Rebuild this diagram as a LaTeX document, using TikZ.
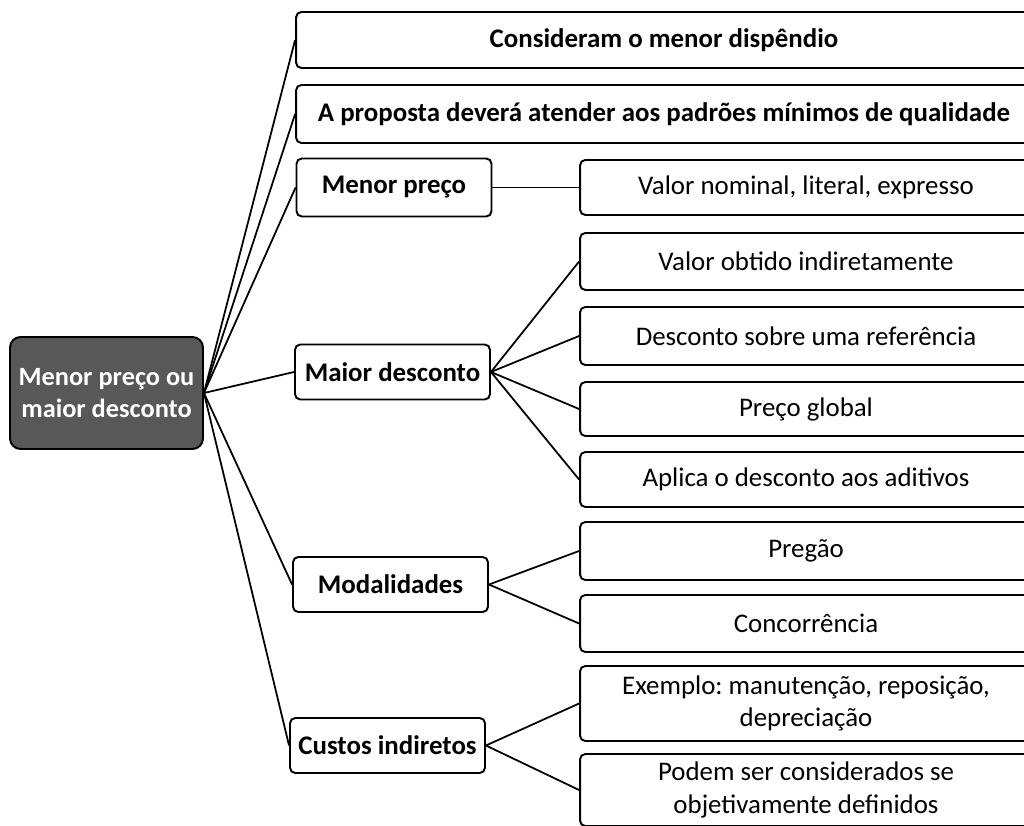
\documentclass[tikz,border=0pt]{standalone}
\usepackage{fontspec}
\setmainfont{Carlito}
\usetikzlibrary{positioning}
\definecolor{RootGray}{RGB}{88,88,88}
\frenchspacing

\begin{document}
\begin{tikzpicture}[
    x=0.02cm, y=0.02cm,
    box/.style={rectangle, rounded corners=3pt, draw=black, fill=white,
                line width=1.1pt, inner sep=0pt, align=center,
                font=\fontsize{15.3}{18.5}\selectfont, text=black},
    midbox/.style={box, minimum width=3.9cm, minimum height=1.1cm,
                   font=\fontsize{15.3}{18.5}\selectfont\bfseries},
    leafbox/.style={box, minimum width=9.04cm},
    topbox/.style={box, minimum width=14.72cm,
                   font=\fontsize{15.3}{18.5}\selectfont\bfseries},
    rootbox/.style={box, rounded corners=6pt, fill=RootGray, text=white,
                    minimum width=3.86cm, minimum height=2.24cm,
                    font=\fontsize{15}{18.5}\selectfont\bfseries},
    link/.style={line width=1pt},
]
\useasboundingbox (0,0) rectangle (1024,825);
\clip (0,0) rectangle (1024,825);

% ── Root ──
\node[rootbox] (root) at (106.5,432) {Menor preço ou\\maior desconto};

% ── First level ──
\node[topbox, minimum height=1.12cm] (consid) at (664,785) {Consideram o menor dispêndio};
\node[topbox, minimum height=1.16cm] (proposta) at (664,711) {A proposta deverá atender aos padrões mínimos de qualidade};
\node[midbox, minimum height=1.16cm] (menor) at (394,637.5) {Menor preço};
\node[midbox] (maior) at (392.5,453) {Maior desconto};
\node[midbox] (modal) at (390.5,240.5) {Modalidades};
\node[midbox] (custos) at (387.5,79.5) {Custos indiretos};

% ── Second level ──
\node[leafbox, minimum height=1.1cm] (nominal) at (806,637.5) {Valor nominal, literal, expresso};
\node[leafbox, minimum height=1.14cm] (indireta) at (806,563.5) {Valor obtido indiretamente};
\node[leafbox, minimum height=1.16cm] (referencia) at (806,489) {Desconto sobre uma referência};
\node[leafbox, minimum height=1.08cm] (global) at (806,416) {Preço global};
\node[leafbox, minimum height=1.1cm] (aditivos) at (806,345.5) {Aplica o desconto aos aditivos};
\node[leafbox, minimum height=1.16cm] (pregao) at (806,274) {Pregão};
\node[leafbox, minimum height=1.14cm] (concorr) at (806,201.5) {Concorrência};
\node[leafbox, minimum height=1.5cm] (exemplo) at (806,121.5) {Exemplo: manutenção, reposição,\\depreciação};
\node[leafbox, minimum height=1.44cm] (podem) at (806,35) {Podem ser considerados se\\objetivamente definidos};

% ── Links from root ──
\foreach \n in {consid,proposta,menor,maior,modal,custos}
    \draw[link] (root.east) -- (\n.west);

% ── Links to second level ──
\draw[link] (menor.east) -- (nominal.west);
\foreach \n in {indireta,referencia,global,aditivos}
    \draw[link] (maior.east) -- (\n.west);
\foreach \n in {pregao,concorr}
    \draw[link] (modal.east) -- (\n.west);
\foreach \n in {exemplo,podem}
    \draw[link] (custos.east) -- (\n.west);

\end{tikzpicture}
\end{document}
